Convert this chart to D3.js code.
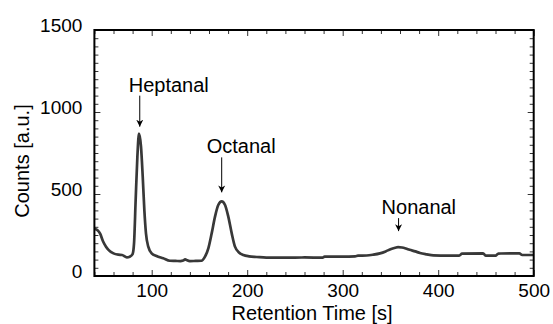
<!DOCTYPE html>
<html>
<head>
<meta charset="utf-8">
<script src="https://cdn.jsdelivr.net/npm/d3@7/dist/d3.min.js"></script>
<style>
  html, body { margin: 0; padding: 0; background: #fff; }
  svg { display: block; font-family: "Liberation Sans", Arial, Helvetica, sans-serif; }
</style>
</head>
<body>
<svg id="chart" width="553" height="324"></svg>
<script>
// Retention time [s]
const times = [40, 43, 46, 49, 52, 55, 60, 65, 69, 74, 77, 80, 81.5, 83.2, 85, 86.7, 88.8, 90.6, 92.3, 94, 96.4, 100, 105, 112, 119, 125, 130, 133, 135, 137, 140, 146, 152, 155.8, 159.3, 162.8, 166.3, 169.7, 173.3, 176.8, 180.2, 183.8, 187.2, 191.7, 196, 202, 210, 220, 240, 260, 279, 281, 300, 313, 316, 325, 332, 339, 345, 350, 355, 358, 362, 366, 370, 376, 381, 388, 395, 410, 422, 425, 447, 450, 460, 463, 485, 488, 500];
// Counts [a.u.]
const counts = [290, 280, 258, 212, 180, 158, 138, 130, 128, 114, 118, 134, 199, 463, 727, 868, 789, 606, 402, 260, 179, 138, 122, 108, 93, 92, 91, 94, 102, 96, 91, 92, 93, 118, 169, 260, 362, 433, 455, 433, 362, 260, 179, 142, 128, 120, 116, 112, 112, 113, 112, 118, 118, 120, 124, 125, 130, 138, 150, 163, 172, 176, 174, 168, 160, 150, 140, 132, 126, 124, 124, 136, 138, 124, 124, 137, 138, 128, 128];

const xMajor = [100, 200, 300, 400, 500];
const yMajor = [0, 500, 1000, 1500];
const annotations = ["Heptanal", "Octanal", "Nonanal"];
const annotationTimes = [87.5, 173.3, 358.5];

const data = times.map((t, i) => ({t, c: counts[i]}));

const svg = d3.select("#chart");
const L = 94.4, R = 533.7, T = 30, B = 276;
const x = d3.scaleLinear().domain([40, 500]).range([L, R]);
const y = d3.scaleLinear().domain([0, 1500]).range([B, T]);

const xMinor = d3.range(40, 501, 20).filter(v => !xMajor.includes(v));
const yMinor = d3.range(0, 1501, 50).filter(v => !yMajor.includes(v));

svg.append("defs").append("clipPath").attr("id", "clip")
  .append("rect").attr("x", L).attr("y", T).attr("width", R - L).attr("height", B - T);

function styleAxis(g) {
  g.select(".domain").remove();
  g.selectAll(".tick line").attr("stroke", "#333").attr("stroke-width", 1);
  g.selectAll(".tick text").attr("font-size", 19).attr("fill", "#000")
    .attr("font-family", "'Liberation Sans', Arial, sans-serif");
}

// bottom axis
svg.append("g").attr("transform", `translate(0,${B})`)
  .call(d3.axisBottom(x).tickValues(xMajor).tickSize(-6).tickPadding(8).tickFormat(d3.format("d")))
  .call(styleAxis);
svg.append("g").attr("transform", `translate(0,${B})`)
  .call(d3.axisBottom(x).tickValues(xMinor).tickSize(-4).tickFormat(""))
  .call(styleAxis);
// top axis
svg.append("g").attr("transform", `translate(0,${T})`)
  .call(d3.axisTop(x).tickValues(xMajor).tickSize(-6).tickFormat(""))
  .call(styleAxis);
svg.append("g").attr("transform", `translate(0,${T})`)
  .call(d3.axisTop(x).tickValues(xMinor).tickSize(-4).tickFormat(""))
  .call(styleAxis);
// left axis
const gy = svg.append("g").attr("transform", `translate(${L},0)`)
  .call(d3.axisLeft(y).tickValues(yMajor).tickSize(-6).tickPadding(12).tickFormat(d3.format("d")))
  .call(styleAxis);
gy.selectAll(".tick text").attr("dy", "0.32em").attr("y", -5);
svg.append("g").attr("transform", `translate(${L},0)`)
  .call(d3.axisLeft(y).tickValues(yMinor).tickSize(-4).tickFormat(""))
  .call(styleAxis);
// right axis
svg.append("g").attr("transform", `translate(${R},0)`)
  .call(d3.axisRight(y).tickValues(yMajor).tickSize(-6).tickFormat(""))
  .call(styleAxis);
svg.append("g").attr("transform", `translate(${R},0)`)
  .call(d3.axisRight(y).tickValues(yMinor).tickSize(-4).tickFormat(""))
  .call(styleAxis);

// trace
svg.append("path").datum(data)
  .attr("clip-path", "url(#clip)")
  .attr("fill", "none")
  .attr("stroke", "#383838")
  .attr("stroke-width", 2.7)
  .attr("stroke-linejoin", "round")
  .attr("d", d3.line().x(d => x(d.t)).y(d => y(d.c)).curve(d3.curveMonotoneX));

// frame
svg.append("rect").attr("x", L).attr("y", T).attr("width", R - L).attr("height", B - T)
  .attr("fill", "none").attr("stroke", "#000").attr("stroke-width", 2);

// annotations
const marker = svg.select("defs").append("marker").attr("id", "arr")
  .attr("viewBox", "0 0 10 10").attr("refX", 10).attr("refY", 5)
  .attr("markerWidth", 7).attr("markerHeight", 8).attr("markerUnits", "userSpaceOnUse")
  .attr("orient", "auto");
marker.append("path").attr("d", "M0,0 L10,5 L0,10 L3,5 Z").attr("fill", "#000");

const annotTextDx = [-11, -15, -17];
const tipGap = [7, 9, 16];
const arrowLen = [31, 35, 13];
annotations.forEach((name, i) => {
  const t = annotationTimes[i];
  const peakC = d3.max(data.filter(d => Math.abs(d.t - t) < 4), d => d.c);
  const px = x(t), py = y(peakC);
  const tipY = py - tipGap[i];
  const startY = tipY - arrowLen[i];
  svg.append("line").attr("x1", px).attr("x2", px)
    .attr("y1", startY).attr("y2", tipY)
    .attr("stroke", "#000").attr("stroke-width", 1)
    .attr("marker-end", "url(#arr)");
  svg.append("text").attr("x", px + annotTextDx[i]).attr("y", startY - 4)
    .attr("font-size", 20).attr("fill", "#000").text(name);
});

// axis titles
svg.append("text").attr("x", (L + R) / 2 - 2).attr("y", 320)
  .attr("text-anchor", "middle").attr("font-size", 20).text("Retention Time [s]");
svg.append("text").attr("transform", `translate(29,161) rotate(-90)`)
  .attr("text-anchor", "middle").attr("font-size", 20).text("Counts [a.u.]");
</script>
</body>
</html>
